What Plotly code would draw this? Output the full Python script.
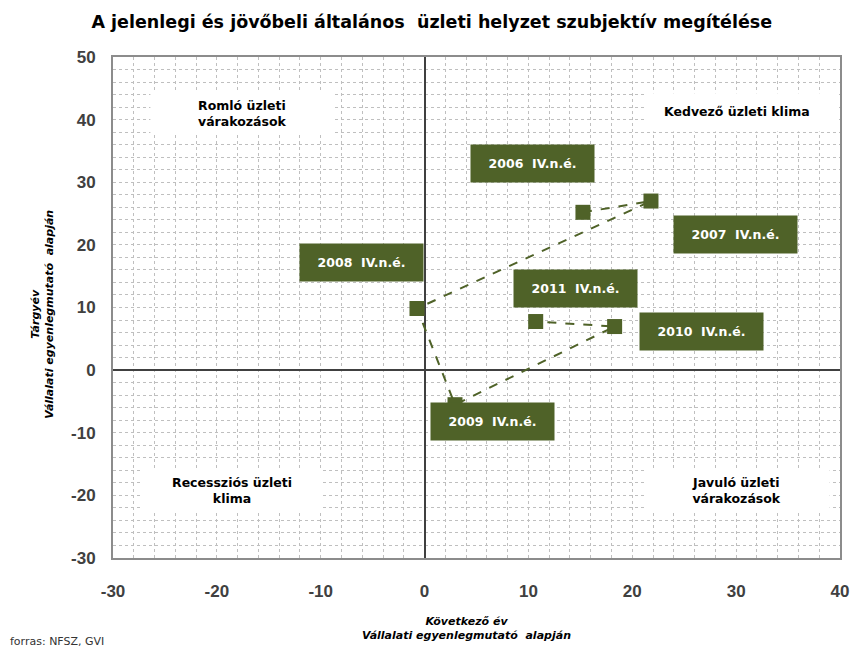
import plotly.graph_objects as go

# ---- data ----
periods = ["2006", "2007", "2008", "2009", "2010", "2011"]
next_year = [15.25, 21.8, -0.73, 2.93, 18.3, 10.7]      # x: Következő év
current_year = [25.2, 27.0, 9.84, -5.52, 6.96, 7.76]    # y: Tárgyév
label_suffix = "  IV.n.é."

quadrant_texts = ["Romló üzleti<br>várakozások", "Kedvező üzleti klima",
                  "Recessziós üzleti<br>klima", "Javuló üzleti<br>várakozások"]

x_ticks = [-30, -20, -10, 0, 10, 20, 30, 40]
y_ticks = [-30, -20, -10, 0, 10, 20, 30, 40, 50]

# ---- styling / layout helpers (positions, not data) ----
GREEN = "#4f6228"
FONT = "DejaVu Sans, sans-serif"
TICKFONT = "Liberation Sans, Arial, sans-serif"
label_offsets = [(-50, -49), (85, 33), (-55, -46), (37, 17), (87, 5), (40, -33)]
quad_boxes = [(-26.4, -8.9, 37.8, 44.5), (21.2, 39.8, 38.1, 44.2),
              (-27.2, -9.8, -22.6, -15.8), (21.2, 39.0, -22.6, -15.8)]
quad_text_pos = [(-17.6, 41.0), (30.1, 41.3), (-18.5, -19.2), (30.0, -19.2)]

fig = go.Figure()
fig.add_trace(go.Scatter(
    x=next_year, y=current_year, mode="lines+markers",
    line=dict(color=GREEN, width=2, dash="dash"),
    marker=dict(symbol="square", size=15, color=GREEN),
    hoverinfo="skip", showlegend=False,
))

shapes = []
for (x0, x1, y0, y1) in quad_boxes:
    shapes.append(dict(type="rect", xref="x", yref="y", x0=x0, x1=x1, y0=y0, y1=y1,
                       fillcolor="white", line=dict(width=0), layer="between"))

annotations = []
for txt, (tx, ty) in zip(quadrant_texts, quad_text_pos):
    annotations.append(dict(x=tx, y=ty, xref="x", yref="y", text=txt, showarrow=False,
                            font=dict(family=FONT, size=12.5, color="#000000", weight="bold"),
                            align="center"))

for p, x, y, (ax, ay) in zip(periods, next_year, current_year, label_offsets):
    annotations.append(dict(x=x, y=y, xref="x", yref="y", text=p + label_suffix,
                            showarrow=True, ax=ax, ay=ay, arrowcolor="rgba(0,0,0,0)",
                            arrowwidth=0.1, standoff=0, startstandoff=0,
                            bgcolor=GREEN, width=121, height=35, borderpad=1,
                            font=dict(family=FONT, size=12.5, color="white", weight="bold"),
                            align="center", valign="middle"))

annotations.append(dict(x=0.486, y=-0.110, xref="paper", yref="paper",
                        text="Következő év<br>Vállalati egyenlegmutató  alapján",
                        showarrow=False, yanchor="top",
                        font=dict(family=FONT, size=11, color="#000000", weight="bold", style="italic")))
annotations.append(dict(x=-0.098, y=0.487, xref="paper", yref="paper", textangle=-90,
                        text="Tárgyév<br>Vállalati egyenlegmutató  alapján",
                        showarrow=False, xanchor="center", yanchor="middle",
                        font=dict(family=FONT, size=11, color="#000000", weight="bold", style="italic")))
annotations.append(dict(x=-105 / 727, xanchor="left", y=-(641 - 558) / 501, yanchor="middle",
                        xref="paper", yref="paper", showarrow=False,
                        text="forras: NFSZ, GVI", font=dict(family=FONT, size=11, color="#333333")))

axis_common = dict(
    showgrid=True, gridcolor="#bfbfbf", griddash="dot", gridwidth=1,
    minor=dict(dtick=2, showgrid=True, gridcolor="#bfbfbf", griddash="dot", gridwidth=1),
    zeroline=True, zerolinecolor="#404040", zerolinewidth=2,
    showline=True, linecolor="#8c8c8c", linewidth=2, mirror=True,
    tickfont=dict(family=TICKFONT, size=17, color="#404040", weight="bold"),
    ticks="", fixedrange=True,
)

fig.update_layout(
    width=850, height=647,
    margin=dict(l=113, r=10, t=57, b=89, autoexpand=False),
    paper_bgcolor="white", plot_bgcolor="white",
    title=dict(text="A jelenlegi és jövőbeli általános  üzleti helyzet szubjektív megítélése",
               x=0.508, xanchor="center", y=0.966, yanchor="middle",
               font=dict(family=FONT, size=17.5, color="#000000", weight="bold")),
    xaxis=dict(range=[-30, 40], tickvals=x_ticks, ticktext=[str(v) for v in x_ticks],
               ticklabelstandoff=17, **axis_common),
    yaxis=dict(range=[-30, 50], tickvals=y_ticks, ticktext=[str(v) for v in y_ticks],
               ticklabelstandoff=12, **axis_common),
    shapes=shapes, annotations=annotations,
)

fig.write_html("out.html", config={"displayModeBar": False},
               post_script="document.body.style.margin='0px';")
